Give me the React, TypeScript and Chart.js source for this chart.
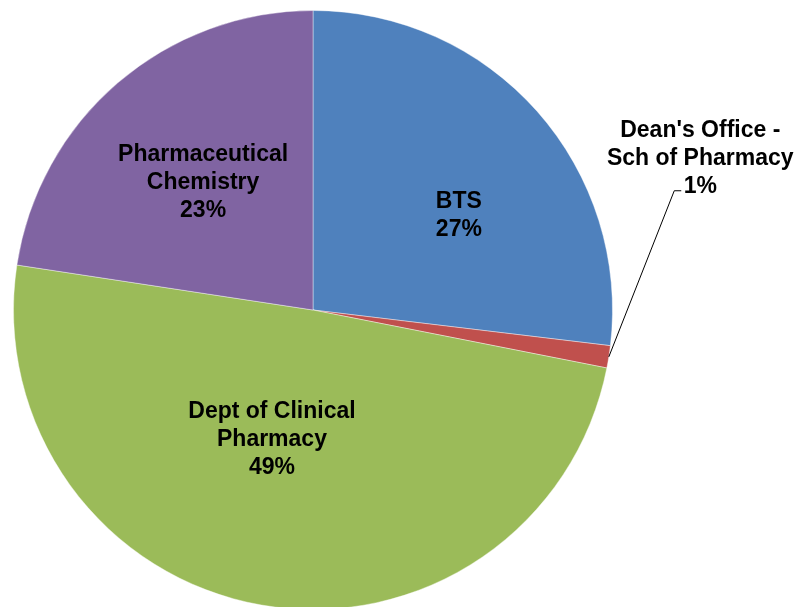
import React, { useEffect, useRef } from "react";
import { Chart, registerables } from "chart.js";

Chart.register(...registerables);

const categories = ["BTS", "Dean's Office - Sch of Pharmacy", "Dept of Clinical Pharmacy", "Pharmaceutical Chemistry"];
const values = [26.9, 1.2, 49.3, 22.6];
const labelLines = [["BTS"], ["Dean's Office -", "Sch of Pharmacy"], ["Dept of Clinical", "Pharmacy"], ["Pharmaceutical", "Chemistry"]];
const colors = ["#4F81BD", "#C0504D", "#9BBB59", "#8064A2"];

// label placement relative to pie center, in units of radius
const labelPos = [
  [0.487, -0.314],
  [1.293, -0.505],
  [-0.137, 0.433],
  [-0.367, -0.425],
];

const labelPlugin = {
  id: "pieLabels",
  afterDatasetsDraw(chart: any) {
    const ctx = chart.ctx;
    const meta = chart.getDatasetMeta(0);
    const total = values.reduce((a, b) => a + b, 0);
    ctx.save();
    ctx.font = "bold 23px 'Liberation Sans', Arial, sans-serif";
    ctx.fillStyle = "#000";
    ctx.textAlign = "center";
    ctx.textBaseline = "middle";
    const lh = 28;
    meta.data.forEach((arc: any, i: number) => {
      const { x, y, outerRadius, startAngle, endAngle } = arc.getProps(["x", "y", "outerRadius", "startAngle", "endAngle"], true);
      const lines = [...labelLines[i], Math.round((values[i] / total) * 100) + "%"];
      const cx = x + labelPos[i][0] * outerRadius;
      const cy = y + labelPos[i][1] * outerRadius;
      const y0 = cy - ((lines.length - 1) * lh) / 2;
      lines.forEach((t, k) => ctx.fillText(t, cx, y0 + k * lh));
      if (i === 1) {
        const mid = (startAngle + endAngle) / 2;
        const sx = x + Math.cos(mid) * outerRadius;
        const sy = y + Math.sin(mid) * outerRadius;
        const ly = y0 + 2 * lh + 4;
        const lx = cx - 26;
        ctx.strokeStyle = "#000";
        ctx.lineWidth = 1;
        ctx.beginPath();
        ctx.moveTo(sx, sy);
        ctx.lineTo(lx, ly);
        ctx.lineTo(lx + 7, ly);
        ctx.stroke();
      }
    });
    ctx.restore();
  },
};

export default function App() {
  const ref = useRef<HTMLCanvasElement>(null);
  useEffect(() => {
    if (!ref.current) return;
    const chart = new Chart(ref.current, {
      type: "pie",
      data: {
        labels: categories,
        datasets: [
          {
            data: values,
            backgroundColor: colors,
            borderColor: "rgba(255,255,255,0.4)",
            borderWidth: 1,
          },
        ],
      },
      options: {
        responsive: false,
        animation: false,
        layout: { padding: { left: 13, right: 188, top: 10, bottom: 10 } },
        plugins: { legend: { display: false }, tooltip: { enabled: false } },
      },
      plugins: [labelPlugin],
    });
    return () => chart.destroy();
  }, []);
  return (
    <div style={{ position: "fixed", left: 0, top: 0, width: 801, height: 607, overflow: "hidden", background: "#fff" }}>
      <canvas ref={ref} width={801} height={620} style={{ display: "block" }} />
    </div>
  );
}
